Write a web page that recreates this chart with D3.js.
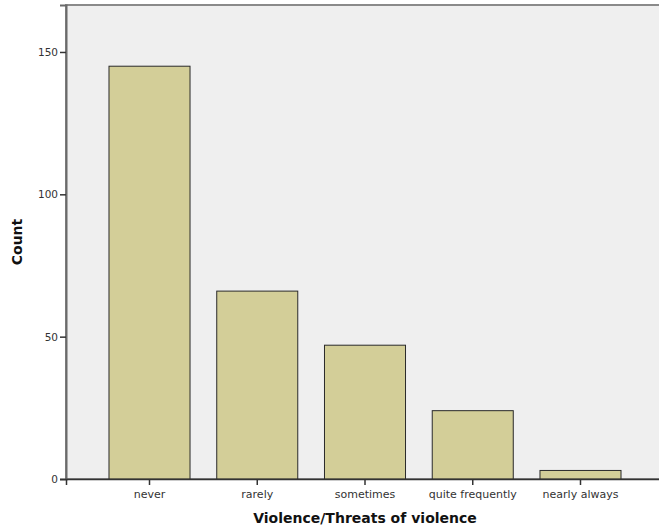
<!DOCTYPE html>
<html><head><meta charset="utf-8">
<script src="https://cdn.jsdelivr.net/npm/d3@7"></script>
<style>body{margin:0;background:#fff;}svg{display:block;}</style>
</head><body>
<script>
const categories = ["never", "rarely", "sometimes", "quite frequently", "nearly always"];
const counts = [145, 66, 47, 24, 3];
const yTicks = [0, 50, 100, 150];

(function () {
const W = 659, H = 531;
const mLeft = 66, mTop = 5, mBottom = 479, mRight = 664;
const FONT = "'DejaVu Sans', sans-serif";
const svg = d3.select("body").append("svg").attr("width", W).attr("height", H);

const x = d3.scaleBand().domain(categories).range([mLeft, mRight]).paddingInner(0.248).paddingOuter(0.399);
const y = d3.scaleLinear().domain([0, 166.5]).range([mBottom, mTop]);

svg.append("rect").attr("x", mLeft).attr("y", mTop).attr("width", mRight - mLeft).attr("height", mBottom - mTop)
  .attr("fill", "#efefef").attr("stroke", "#8a8a8a").attr("stroke-width", 2);

svg.selectAll("rect.bar").data(counts).enter().append("rect").attr("class", "bar")
  .attr("x", (d, i) => x(categories[i]))
  .attr("y", d => y(d))
  .attr("width", x.bandwidth())
  .attr("height", d => y(0) - y(d))
  .attr("fill", "#d3ce98").attr("stroke", "#2a2a2a").attr("stroke-width", 1);

const yAxis = d3.axisLeft(y).tickValues(yTicks).tickSize(6).tickPadding(2);
const gy = svg.append("g").attr("transform", `translate(${mLeft},0)`).call(yAxis);
gy.select(".domain").attr("stroke", "#6a6a6a").attr("stroke-width", 2);
gy.selectAll(".tick line").attr("stroke", "#333").attr("stroke-width", 1.5);
gy.selectAll(".tick text").attr("font-family", FONT).attr("font-size", 10.5).attr("fill", "#333");

const xAxis = d3.axisBottom(x).tickSize(6).tickPadding(5);
const gx = svg.append("g").attr("transform", `translate(0,${mBottom})`).call(xAxis);
gx.select(".domain").attr("stroke", "#333").attr("stroke-width", 1.5);
gx.selectAll(".tick line").attr("stroke", "#333").attr("stroke-width", 1.5);
gx.selectAll(".tick text").attr("font-family", FONT).attr("font-size", 11).attr("fill", "#333");

svg.append("text").attr("x", 365).attr("y", 523).attr("text-anchor", "middle")
  .attr("font-family", FONT).attr("font-weight", "bold").attr("font-size", 14)
  .attr("fill", "#111").text("Violence/Threats of violence");

svg.append("text").attr("transform", "translate(22,242) rotate(-90)").attr("text-anchor", "middle")
  .attr("font-family", FONT).attr("font-weight", "bold").attr("font-size", 14)
  .attr("fill", "#111").text("Count");
})();
</script>
</body></html>
